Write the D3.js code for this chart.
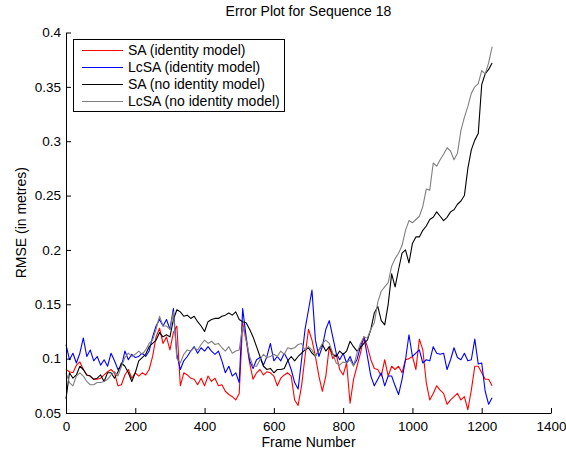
<!DOCTYPE html>
<html lang="en">

<head>
    <meta charset="UTF-8">
    <title>Error Plot for Sequence 18</title>
    <script src="https://d3js.org/d3.v7.min.js"></script>
    <style>
        body {
            margin: 0;
            padding: 0;
            background: #ffffff;
            font-family: Arial, "Liberation Sans", Helvetica, sans-serif;
        }
    </style>
</head>

<body>
    <svg id="vis"></svg>
    <script>
        // frame numbers (sampled every 10 frames)
        const frames = d3.range(0, 1231, 10);

        // RMSE in metres, one row per 100 frames
        const saIdentity = [
            .090, .088, .087, .094, .097, .090, .085, .084, .081, .081,
            .082, .085, .088, .090, .087, .075, .076, .085, .090, .082,
            .087, .084, .087, .085, .090, .102, .120, .128, .114, .120,
            .108, .124, .130, .075, .087, .085, .082, .081, .076, .082,
            .075, .084, .079, .082, .075, .076, .070, .067, .065, .062,
            .068, .133, .117, .096, .081, .087, .090, .085, .088, .087,
            .084, .075, .082, .085, .087, .084, .062, .057, .075, .102,
            .127, .117, .102, .084, .070, .084, .111, .100, .104, .090,
            .085, .096, .059, .081, .093, .105, .120, .111, .099, .091,
            .090, .084, .099, .084, .093, .090, .093, .087, .099, .100,
            .102, .090, .118, .108, .078, .062, .068, .075, .071, .068,
            .058, .062, .065, .068, .062, .065, .053, .071, .093, .093,
            .087, .081, .081, .075
        ];
        const lcsaIdentity = [
            .113, .099, .105, .096, .105, .119, .102, .108, .098, .102,
            .094, .099, .093, .105, .098, .090, .093, .107, .099, .104,
            .101, .102, .105, .102, .107, .120, .130, .136, .130, .136,
            .127, .146, .104, .090, .098, .102, .107, .111, .105, .110,
            .107, .111, .107, .104, .107, .098, .087, .093, .084, .087,
            .078, .146, .120, .098, .091, .099, .101, .094, .102, .114,
            .098, .102, .098, .105, .099, .090, .078, .072, .099, .127,
            .145, .163, .117, .102, .111, .127, .135, .120, .105, .099,
            .105, .096, .102, .094, .099, .111, .120, .102, .084, .075,
            .081, .087, .075, .084, .084, .075, .067, .081, .099, .122,
            .102, .105, .108, .096, .099, .098, .111, .105, .104, .105,
            .090, .099, .110, .101, .099, .105, .098, .099, .118, .095,
            .096, .070, .058, .064
        ];
        const saNoIdentity = [
            .063, .087, .082, .085, .093, .090, .085, .084, .081, .082,
            .085, .079, .087, .087, .082, .088, .096, .093, .087, .079,
            .087, .098, .101, .104, .111, .114, .117, .124, .120, .122,
            .120, .136, .145, .143, .139, .140, .137, .139, .134, .130,
            .125, .134, .136, .137, .137, .139, .140, .142, .140, .143,
            .136, .134, .133, .127, .120, .111, .102, .093, .090, .091,
            .087, .090, .090, .091, .098, .102, .098, .102, .105, .108,
            .110, .105, .102, .108, .113, .107, .111, .104, .102, .107,
            .104, .107, .116, .111, .107, .110, .114, .117, .127, .142,
            .148, .135, .131, .150, .178, .166, .182, .197, .200, .188,
            .206, .212, .212, .218, .222, .228, .230, .235, .231, .227,
            .230, .235, .237, .242, .245, .250, .275, .292, .301, .307,
            .352, .362, .366, .372
        ];
        const lcsaNoIdentity = [
            .087, .078, .075, .084, .087, .084, .079, .076, .076, .078,
            .078, .079, .081, .085, .088, .084, .093, .101, .105, .102,
            .104, .107, .104, .108, .114, .117, .127, .139, .130, .130,
            .127, .143, .100, .096, .104, .108, .107, .110, .108, .113,
            .117, .114, .116, .113, .114, .110, .107, .111, .105, .107,
            .108, .130, .117, .102, .093, .093, .099, .104, .101, .102,
            .104, .102, .107, .104, .110, .109, .110, .113, .114, .108,
            .111, .108, .102, .108, .114, .117, .114, .105, .096, .094,
            .097, .096, .099, .093, .105, .114, .120, .119, .127, .133,
            .152, .162, .166, .170, .185, .192, .197, .204, .218, .227,
            .225, .228, .231, .240, .256, .255, .280, .277, .283, .288,
            .294, .291, .283, .289, .310, .322, .332, .344, .350, .353,
            .365, .362, .372, .387
        ];

        const seriesNames = ["SA (identity model)", "LcSA (identity model)",
            "SA (no identity model)", "LcSA (no identity model)"];
        const seriesColors = ["#ff0000", "#0000ff", "#000000", "#808080"];
        const seriesValues = [saIdentity, lcsaIdentity, saNoIdentity, lcsaNoIdentity];

        const xTicks = [0, 200, 400, 600, 800, 1000, 1200, 1400];
        const yTicks = [0.05, 0.1, 0.15, 0.2, 0.25, 0.3, 0.35, 0.4];
        const yTickLabels = ["0.05", "0.1", "0.15", "0.2", "0.25", "0.3", "0.35", "0.4"];

        const series = seriesNames.map((name, i) => ({
            name: name,
            color: seriesColors[i],
            values: seriesValues[i]
        }));

        const width = 566;
        const height = 450;
        const svg = d3.select("#vis").attr("width", width).attr("height", height);

        const plotLeft = 66, plotRight = 551, plotTop = 32.5, plotBottom = 413;
        const x = d3.scaleLinear().domain([0, 1400]).range([plotLeft, plotRight]);
        const y = d3.scaleLinear().domain([0.05, 0.4]).range([plotBottom, plotTop]);

        // data lines
        const line = d3.line()
            .x((d, i) => x(frames[i]))
            .y(d => y(d));

        svg.append("g")
            .selectAll("path")
            .data(series)
            .join("path")
            .attr("d", d => line(d.values))
            .attr("fill", "none")
            .attr("stroke", d => d.color)
            .attr("stroke-width", 1.1)
            .attr("stroke-linejoin", "round");

        // axes, ticks pointing inward, no box
        const xAxis = svg.append("g")
            .attr("transform", `translate(0,${plotBottom})`)
            .call(d3.axisBottom(x).tickValues(xTicks).tickSizeInner(-5).tickSizeOuter(0).tickPadding(8)
                .tickFormat(d3.format("d")));
        const yAxis = svg.append("g")
            .attr("transform", `translate(${plotLeft},0)`)
            .call(d3.axisLeft(y).tickValues(yTicks).tickSizeInner(-5).tickSizeOuter(0).tickPadding(5)
                .tickFormat((d, i) => yTickLabels[i]));

        [xAxis, yAxis].forEach(a => {
            a.selectAll("text")
                .attr("fill", "#000")
                .style("font-family", "Arial, 'Liberation Sans', sans-serif")
                .style("font-size", "13.5px");
            a.selectAll("line").attr("stroke", "#000");
            a.select(".domain").attr("stroke", "#000");
        });

        // labels
        svg.append("text")
            .attr("x", (plotLeft + plotRight) / 2)
            .attr("y", 15.5)
            .attr("text-anchor", "middle")
            .style("font-size", "14px")
            .text("Error Plot for Sequence 18");

        svg.append("text")
            .attr("x", (plotLeft + plotRight) / 2)
            .attr("y", 447)
            .attr("text-anchor", "middle")
            .style("font-size", "14px")
            .text("Frame Number");

        svg.append("text")
            .attr("transform", `translate(26,${(plotTop + plotBottom) / 2}) rotate(-90)`)
            .attr("text-anchor", "middle")
            .style("font-size", "14px")
            .text("RMSE (in metres)");

        // legend
        const legend = svg.append("g");
        legend.append("rect")
            .attr("x", 73.5)
            .attr("y", 39.5)
            .attr("width", 211)
            .attr("height", 72)
            .attr("fill", "#fff")
            .attr("stroke", "#000")
            .attr("stroke-width", 1);

        const rows = legend.selectAll("g.row")
            .data(series)
            .join("g")
            .attr("class", "row")
            .attr("transform", (d, i) => `translate(0,${50.5 + i * 17})`);
        rows.append("line")
            .attr("x1", 82).attr("x2", 123)
            .attr("stroke", d => d.color)
            .attr("stroke-width", 1.1);
        rows.append("text")
            .attr("x", 128)
            .attr("dy", "0.35em")
            .style("font-size", "14px")
            .text(d => d.name);
    </script>
</body>

</html>
